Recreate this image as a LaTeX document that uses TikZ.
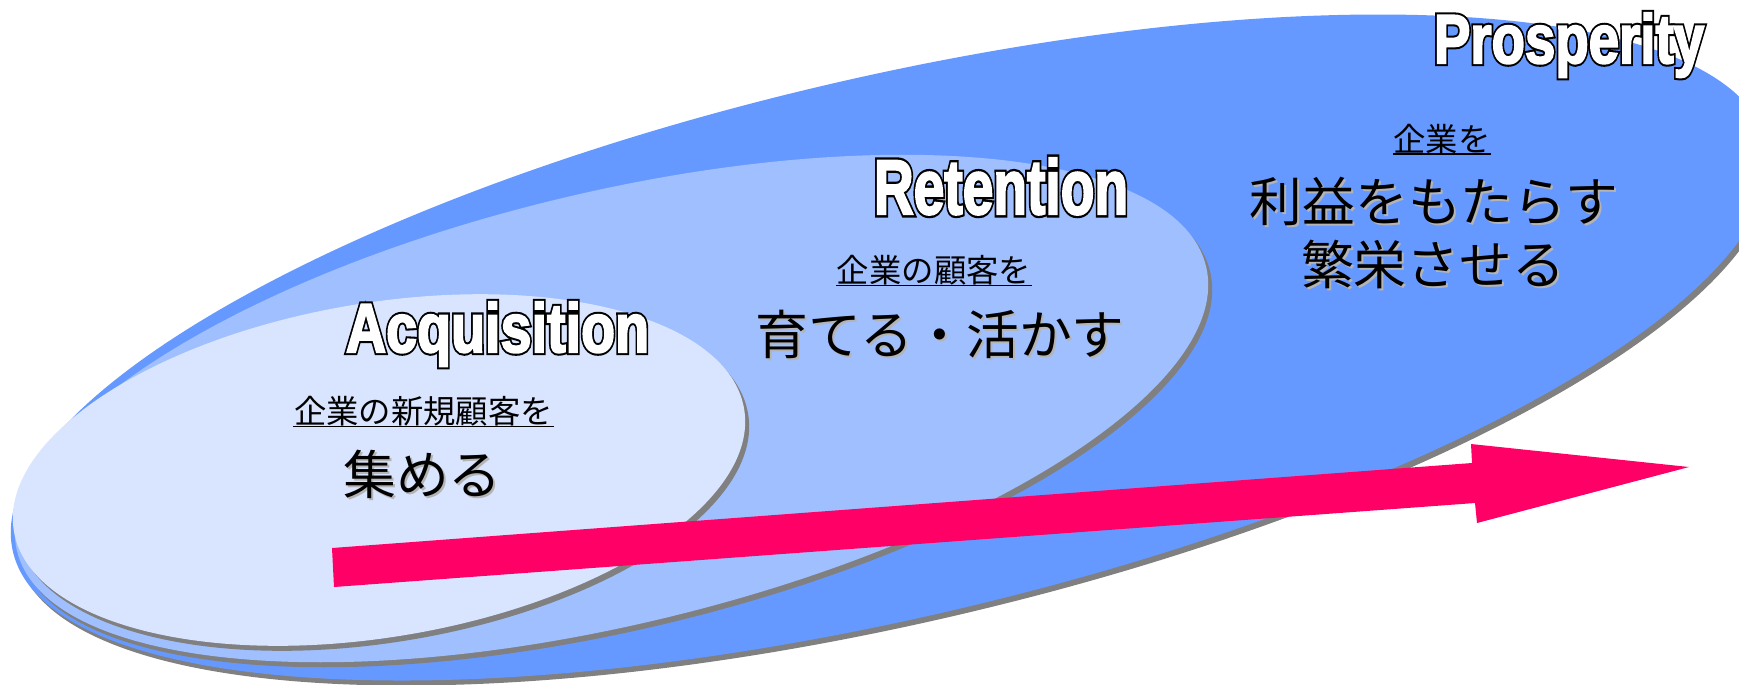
\documentclass[tikz,border=0pt]{standalone}
\usepackage{fontspec}
\usepackage{graphicx}
\newfontfamily\jp{Noto Sans CJK JP}
\newfontfamily\ttlout{Liberation Sans Bold}[FakeBold=9]
\newfontfamily\ttlin{Liberation Sans Bold}[FakeBold=3]
\definecolor{outerblue}{HTML}{6699FF}
\definecolor{midblue}{HTML}{9FBFFF}
\definecolor{innerblue}{HTML}{D9E5FF}
\definecolor{shadowgray}{HTML}{808080}
\definecolor{textshadow}{HTML}{B4B4B4}
\definecolor{arrowpink}{HTML}{FF0066}
\newcommand{\titletext}[3]{\resizebox{#2}{#3}{\rlap{\ttlout\color{black}#1}{\ttlin\color{white}#1}}}
\newcommand{\disc}[6]{%
  \fill[shadowgray, rotate around={#5:(#1+4,#2+5)}] (#1+4,#2+5) ellipse [x radius=#3, y radius=#4];
  \fill[#6, rotate around={#5:(#1,#2)}] (#1,#2) ellipse [x radius=#3, y radius=#4];}
\begin{document}
\begin{tikzpicture}[x=0.01cm, y=-0.01cm,
  jbig/.style={inner sep=0pt, font=\jp\fontsize{15pt}{15pt}\selectfont, text height=13.2pt, text depth=1.8pt},
  jsmall/.style={inner sep=0pt, font=\jp\fontsize{9.2pt}{9.2pt}\selectfont, text height=8.1pt, text depth=1.1pt},
  jshadow/.style={text=textshadow},
  uline/.style={line width=0.016cm, black},
  titlenode/.style={inner sep=0pt, anchor=base}]
\useasboundingbox (0,0) rectangle (1739,684);
\fill[white] (0,0) rectangle (1739,684);
\begin{scope}
\clip (0,0) rectangle (1739,684);
\disc{890}{347.5}{9.00cm}{2.70cm}{13.1}{outerblue}
\disc{611.5}{408.5}{6.11cm}{2.16cm}{13.44}{midblue}
\disc{379}{470}{3.70cm}{1.67cm}{9.5}{innerblue}
\fill[arrowpink] (332,548) -- (1472,463) -- (1471,444) -- (1689,467) -- (1477,523) -- (1475,503) -- (334,587) -- cycle;
\end{scope}
% titles
\node[titlenode] (tp) at (1569,63) {\titletext{Prosperity}{2.70cm}{0.50cm}};
\node[titlenode] (tr) at (1001,214) {\titletext{Retention}{2.54cm}{0.56cm}};
\node[titlenode] (ta) at (497.5,352) {\titletext{Acquisition}{3.03cm}{0.50cm}};
% Prosperity texts
\node[jsmall] (ps) at (1442,139) {企業を};
\draw[uline] ([yshift=0.02cm]ps.south west) -- ([yshift=0.02cm]ps.south east);
\node[jbig, jshadow] at (1436,203) {利益をもたらす};
\node[jbig] (pb1) at (1434,201) {利益をもたらす};
\node[jbig, jshadow] at (1435,266.5) {繁栄させる};
\node[jbig] (pb2) at (1433,264.5) {繁栄させる};
% Retention texts
\node[jsmall] (rs) at (934,270.5) {企業の顧客を};
\draw[uline] ([yshift=0.02cm]rs.south west) -- ([yshift=0.02cm]rs.south east);
\node[jbig, jshadow] at (942,336) {育てる・活かす};
\node[jbig] (rb) at (940,334) {育てる・活かす};
% Acquisition texts
\node[jsmall] (as) at (423.5,411.5) {企業の新規顧客を};
\draw[uline] ([yshift=0.02cm]as.south west) -- ([yshift=0.02cm]as.south east);
\node[jbig, jshadow] at (424.5,476) {集める};
\node[jbig] (ab) at (422.5,474) {集める};
\end{tikzpicture}
\end{document}
